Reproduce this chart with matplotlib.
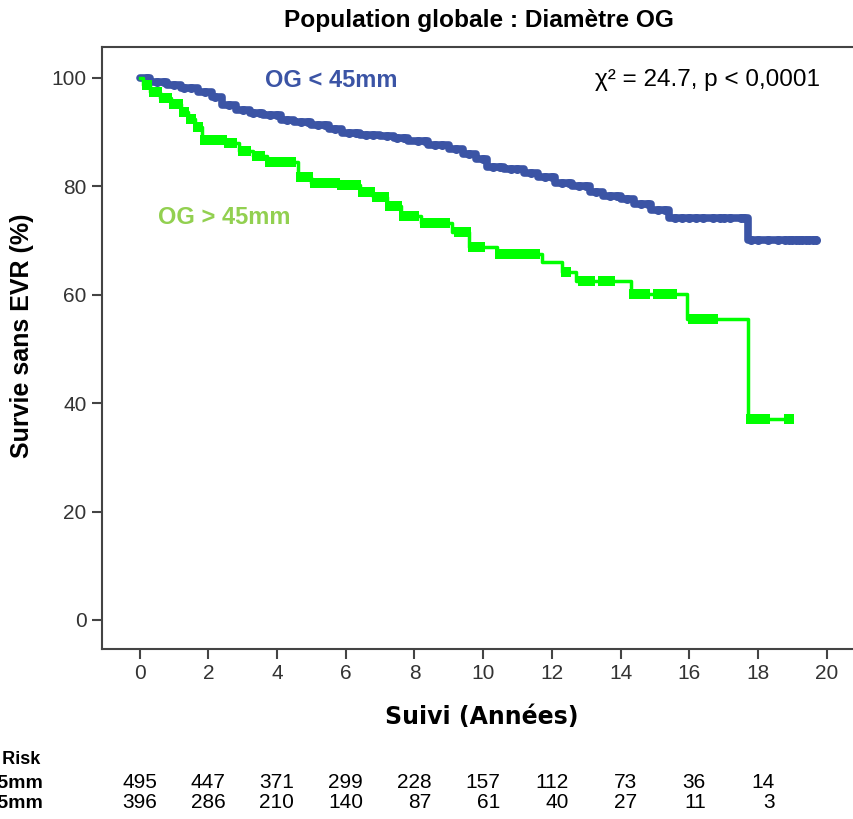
import numpy as np
import matplotlib
matplotlib.use('Agg')
import matplotlib.pyplot as plt

plt.rcParams['font.family'] = ['Liberation Sans', 'DejaVu Sans']

# Kaplan-Meier steps (years, % survival)
blue_t = [0, 0.3, 0.8, 1.2, 1.7, 2.1, 2.4, 2.8, 3.2, 3.6, 4.1, 4.5, 5.0, 5.5, 5.9, 6.4,
          7.0, 7.4, 7.8, 8.4, 9.0, 9.4, 9.8, 10.1, 10.6, 11.2, 11.6, 12.1, 12.6, 13.1,
          13.5, 14.0, 14.4, 14.9, 15.4, 17.7, 19.7]
blue_s = [100, 99.3, 98.7, 98.2, 97.4, 96.5, 95.0, 94.0, 93.5, 93.2, 92.3, 91.8, 91.3,
          90.6, 89.9, 89.5, 89.3, 88.9, 88.3, 87.6, 86.9, 86.0, 85.0, 83.6, 83.2, 82.5,
          81.7, 80.6, 80.1, 79.0, 78.3, 77.6, 76.8, 75.6, 74.1, 70.1, 70.1]
blue_cens = [0.2, 0.5, 0.7, 1.0, 1.3, 1.5, 1.9, 2.2, 2.6, 3.0, 3.3, 3.5, 3.8, 4.0, 4.3,
             4.7, 4.9, 5.2, 5.4, 5.7, 6.1, 6.3, 6.6, 6.8, 7.2, 7.5, 7.7, 8.1, 8.3, 8.6,
             8.8, 9.2, 9.6, 10.0, 10.3, 10.5, 10.8, 11.0, 11.4, 11.8, 12.0, 12.3, 12.5,
             12.8, 13.0, 13.3, 13.7, 13.9, 14.2, 14.6, 14.8, 15.1, 15.3, 15.6, 15.8, 16.0,
             16.2, 16.4, 16.7, 16.9, 17.0, 17.2, 17.5, 17.6, 17.8, 18.0, 18.3, 18.6, 18.8,
             18.9, 19.0, 19.1, 19.2, 19.3, 19.4, 19.5, 19.6, 19.7]

green_t = [0, 0.1, 0.3, 0.6, 0.9, 1.2, 1.4, 1.6, 1.8, 2.5, 2.9, 3.3, 3.7, 4.6, 5.0, 5.8,
           6.4, 6.8, 7.2, 7.6, 8.2, 9.1, 9.6, 10.4, 11.7, 12.3, 12.7, 14.3, 15.95, 17.7,
           18.95]
green_s = [100, 98.6, 97.4, 96.2, 95.2, 93.8, 92.5, 91.0, 88.6, 88.0, 86.6, 85.6, 84.4,
           81.8, 80.6, 80.2, 79.0, 78.0, 76.4, 74.6, 73.2, 71.6, 68.8, 67.6, 66.1, 64.2,
           62.6, 60.2, 55.6, 37.1, 37.1]
green_cens = [0.2, 0.4, 0.5, 0.7, 0.8, 1.0, 1.1, 1.3, 1.5, 1.7, 1.9, 2.0, 2.2, 2.4, 2.6,
              2.7, 3.0, 3.1, 3.4, 3.5, 3.8, 4.0, 4.2, 4.4, 4.7, 4.9, 5.1, 5.3, 5.5, 5.7,
              5.9, 6.1, 6.3, 6.5, 6.7, 6.9, 7.1, 7.3, 7.5, 7.7, 7.9, 8.0, 8.3, 8.5, 8.7,
              8.9, 9.3, 9.5, 9.7, 9.9, 10.5, 10.6, 10.8, 10.9, 11.1, 11.2, 11.4, 11.5,
              12.4, 12.9, 13.1, 13.5, 13.7, 14.4, 14.6, 14.7, 15.1, 15.3, 15.5, 16.1,
              16.3, 16.5, 16.7, 17.8, 18.0, 18.2, 18.9]

risk_times = [0, 2, 4, 6, 8, 10, 12, 14, 16, 18]
risk_blue = [495, 447, 371, 299, 228, 157, 112, 73, 36, 14]
risk_green = [396, 286, 210, 140, 87, 61, 40, 27, 11, 3]

blue = '#3B54A5'
green = '#00FF00'


def step_at(t, ts, ss):
    idx = np.searchsorted(ts, t, side='right') - 1
    return np.asarray(ss)[idx]


fig = plt.figure(figsize=(8.54, 8.19), dpi=100)
ax = fig.add_axes([102 / 854, 170 / 819, 752 / 854, 602 / 819])

ax.step(blue_t, blue_s, where='post', color=blue, lw=5.5, solid_capstyle='round',
        solid_joinstyle='round')
ax.plot(blue_cens, step_at(blue_cens, blue_t, blue_s), 'o', color=blue, ms=6.5, mew=0)
ax.step(green_t, green_s, where='post', color=green, lw=2.5)
ax.plot(green_cens, step_at(green_cens, green_t, green_s), 's', color=green, ms=6.5, mew=0)

ax.set_xlim(-1.1, 20.8)
ax.set_ylim(-5.35, 105.7)
ax.set_xticks(range(0, 21, 2))
ax.set_yticks(range(0, 101, 20))
for s in ['left', 'bottom', 'top']:
    ax.spines[s].set_color('#444444')
    ax.spines[s].set_linewidth(1.5)
ax.spines['right'].set_visible(False)
ax.tick_params(length=7, width=1.5, color='#444444', labelsize=15,
               labelcolor='#333333', pad=4)

ax.set_ylabel('Survie sans EVR (%)', fontsize=18, fontweight='bold')
ax.yaxis.set_label_coords(-0.09, 0.52)
ax.set_xlabel('Suivi (Années)', fontsize=17, fontweight='bold', family='DejaVu Sans')
ax.xaxis.set_label_coords(0.505, -0.093)
fig.text(479 / 854, 1 - 21 / 819, 'Population globale : Diamètre OG', ha='center',
         va='center', fontsize=17.6, fontweight='bold')

ax.text(0.217, 0.945, 'OG < 45mm', transform=ax.transAxes, color=blue,
        fontsize=17, fontweight='bold', va='center')
ax.text(0.075, 0.716, 'OG > 45mm', transform=ax.transAxes, color='#92D050',
        fontsize=17, fontweight='bold', va='center')
ax.text(0.955, 0.945, 'χ² = 24.7, p < 0,0001', transform=ax.transAxes,
        fontsize=17.5, ha='right', va='center')

# number at risk table below the axis
fig.text(40 / 854, 1 - 760 / 819, 'Number at Risk', fontsize=13, fontweight='bold',
         ha='right', va='center')
for row, lab, vals in [(783, 'OG < 45mm', risk_blue), (803, 'OG > 45mm', risk_green)]:
    fig.text(43 / 854, 1 - row / 819, lab, fontsize=14, fontweight='bold',
             ha='right', va='center')
    for t, v in zip(risk_times, vals):
        x_fig = (140 + (t + 0.5) * 34.3) / 854
        fig.text(x_fig, 1 - row / 819, str(v), fontsize=15, ha='right', va='center')

fig.savefig('out.png', dpi=100)
